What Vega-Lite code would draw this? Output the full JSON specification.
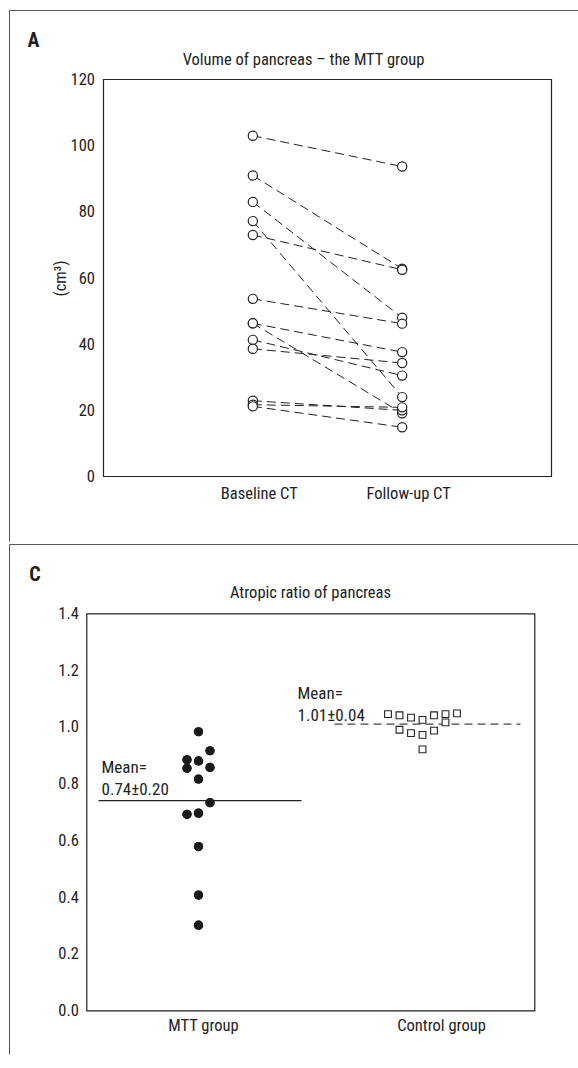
{
  "$schema": "https://vega.github.io/schema/vega-lite/v6.json",
  "background": "white",
  "padding": {"left": 7.5, "top": 9.5, "right": 0, "bottom": 0},
  "spacing": 0,
  "config": {
    "font": "Liberation Sans Narrow, Roboto Condensed, DejaVu Sans Condensed, Roboto, sans-serif",
    "view": {"stroke": "#222", "strokeWidth": 1.2},
    "axis": {"labelFontSize": 16.5, "labelColor": "#222", "titleColor": "#222", "titleFontSize": 16.5, "titleFontWeight": "normal", "domain": false, "ticks": false, "grid": false},
    "text": {"color": "#222"}
  },
  "datasets": {
    "volume": [
      {"patient": 1, "visit": 1, "volume": 103}, {"patient": 1, "visit": 2, "volume": 93.7},
      {"patient": 2, "visit": 1, "volume": 91}, {"patient": 2, "visit": 2, "volume": 62.8},
      {"patient": 3, "visit": 1, "volume": 83}, {"patient": 3, "visit": 2, "volume": 48},
      {"patient": 4, "visit": 1, "volume": 77.2}, {"patient": 4, "visit": 2, "volume": 24},
      {"patient": 5, "visit": 1, "volume": 73}, {"patient": 5, "visit": 2, "volume": 62.5},
      {"patient": 6, "visit": 1, "volume": 53.7}, {"patient": 6, "visit": 2, "volume": 46.2},
      {"patient": 7, "visit": 1, "volume": 46.3}, {"patient": 7, "visit": 2, "volume": 37.6},
      {"patient": 8, "visit": 1, "volume": 46.3}, {"patient": 8, "visit": 2, "volume": 19.1},
      {"patient": 9, "visit": 1, "volume": 41.3}, {"patient": 9, "visit": 2, "volume": 30.5},
      {"patient": 10, "visit": 1, "volume": 38.6}, {"patient": 10, "visit": 2, "volume": 34.3},
      {"patient": 11, "visit": 1, "volume": 22.9}, {"patient": 11, "visit": 2, "volume": 20.0},
      {"patient": 12, "visit": 1, "volume": 21.7}, {"patient": 12, "visit": 2, "volume": 20.9},
      {"patient": 13, "visit": 1, "volume": 21.2}, {"patient": 13, "visit": 2, "volume": 14.9}
    ],
    "mtt": [
      {"group": "MTT group", "slot": 0, "ratio": 0.983},
      {"group": "MTT group", "slot": 1, "ratio": 0.916},
      {"group": "MTT group", "slot": -1, "ratio": 0.884},
      {"group": "MTT group", "slot": 0, "ratio": 0.880},
      {"group": "MTT group", "slot": -1, "ratio": 0.854},
      {"group": "MTT group", "slot": 1, "ratio": 0.857},
      {"group": "MTT group", "slot": 0, "ratio": 0.816},
      {"group": "MTT group", "slot": 1, "ratio": 0.733},
      {"group": "MTT group", "slot": -1, "ratio": 0.692},
      {"group": "MTT group", "slot": 0, "ratio": 0.696},
      {"group": "MTT group", "slot": 0, "ratio": 0.578},
      {"group": "MTT group", "slot": 0, "ratio": 0.407},
      {"group": "MTT group", "slot": 0, "ratio": 0.301}
    ],
    "control": [
      {"group": "Control group", "slot": -3, "ratio": 1.045},
      {"group": "Control group", "slot": -2, "ratio": 1.041},
      {"group": "Control group", "slot": -1, "ratio": 1.033},
      {"group": "Control group", "slot": 0, "ratio": 1.025},
      {"group": "Control group", "slot": 1, "ratio": 1.041},
      {"group": "Control group", "slot": 2, "ratio": 1.045},
      {"group": "Control group", "slot": 3, "ratio": 1.048},
      {"group": "Control group", "slot": 2, "ratio": 1.016},
      {"group": "Control group", "slot": -2, "ratio": 0.990},
      {"group": "Control group", "slot": -1, "ratio": 0.978},
      {"group": "Control group", "slot": 0, "ratio": 0.972},
      {"group": "Control group", "slot": 1, "ratio": 0.987},
      {"group": "Control group", "slot": 0, "ratio": 0.921}
    ]
  },
  "vconcat": [
    {
      "width": 465,
      "height": 397,
      "view": {"stroke": null},
      "layer": [
        {
          "data": {"name": "volume"},
          "mark": {"type": "line", "stroke": "#222", "strokeWidth": 1, "strokeDash": [9, 5]},
          "encoding": {
            "x": {"field": "visit", "type": "quantitative", "scale": {"domain": [0, 3], "range": [17, 465], "nice": false},
                  "axis": {"values": [1, 2], "labelExpr": "datum.value == 1 ? 'Baseline CT' : 'Follow-up CT'", "title": null, "labelPadding": 9, "labelOffset": 6}},
            "y": {"field": "volume", "type": "quantitative", "scale": {"domain": [0, 120], "nice": false},
                  "axis": {"values": [0, 20, 40, 60, 80, 100, 120], "title": "(cm³)", "offset": -17, "labelPadding": 9, "titlePadding": 2}},
            "detail": {"field": "patient", "type": "nominal"}
          }
        },
        {
          "data": {"values": [{}]},
          "mark": {"type": "rect", "fill": null, "fillOpacity": 0, "stroke": "#222", "strokeWidth": 1.2},
          "encoding": {
            "x": {"datum": 0, "type": "quantitative"},
            "x2": {"datum": 3},
            "y": {"datum": 0, "type": "quantitative"},
            "y2": {"datum": 120}
          }
        },
        {
          "data": {"values": [{}]},
          "mark": {"type": "rule", "stroke": "#555", "strokeWidth": 1},
          "encoding": {
            "x": {"datum": -0.6295, "type": "quantitative"},
            "x2": {"datum": 3.181},
            "y": {"datum": 140.86, "type": "quantitative"}
          }
        },
        {
          "data": {"values": [{}]},
          "mark": {"type": "rule", "stroke": "#555", "strokeWidth": 1},
          "encoding": {
            "x": {"datum": -0.6295, "type": "quantitative"},
            "y": {"datum": 140.86, "type": "quantitative"},
            "y2": {"datum": -19.648}
          }
        },
        {
          "data": {"values": [{}]},
          "mark": {"type": "text", "text": "A", "align": "left", "baseline": "alphabetic", "fontSize": 20, "fontWeight": "bold"},
          "encoding": {
            "x": {"datum": -0.509, "type": "quantitative"},
            "y": {"datum": 129.68, "type": "quantitative"}
          }
        },
        {
          "data": {"values": [{}]},
          "mark": {"type": "text", "text": "Volume of pancreas – the MTT group", "align": "center", "baseline": "alphabetic", "fontSize": 16.5},
          "encoding": {
            "x": {"datum": 1.339, "type": "quantitative"},
            "y": {"datum": 124.53, "type": "quantitative"}
          }
        },
        {
          "data": {"name": "volume"},
          "mark": {"type": "circle", "size": 85, "fill": "white", "fillOpacity": 1, "stroke": "#222", "strokeWidth": 1.2, "opacity": 1},
          "encoding": {
            "x": {"field": "visit", "type": "quantitative"},
            "y": {"field": "volume", "type": "quantitative"}
          }
        }
      ]
    },
    {
      "width": 448,
      "height": 397,
      "layer": [
        {
          "data": {"name": "mtt"},
          "mark": {"type": "circle", "size": 85, "color": "#1a1a1a", "opacity": 1},
          "encoding": {
            "x": {"field": "group", "type": "nominal", "scale": {"type": "band", "domain": ["MTT group", "Control group"], "paddingInner": 0, "paddingOuter": 0},
                  "axis": {"title": null, "labelAngle": 0, "labelPadding": 7, "labelOffset": {"condition": {"test": "datum.value == 'Control group'", "value": 19}, "value": 5}}},
            "xOffset": {"field": "slot", "type": "quantitative", "scale": {"domain": [-3, 3], "range": [77.5, 146.5]}},
            "y": {"field": "ratio", "type": "quantitative", "scale": {"domain": [0, 1.4], "nice": false},
                  "axis": {"values": [0, 0.2, 0.4, 0.6, 0.8, 1.0, 1.2, 1.4], "format": ".1f", "title": null, "labelPadding": 8}}
          }
        },
        {
          "data": {"values": [{}]},
          "mark": {"type": "rule", "stroke": "#555", "strokeWidth": 1},
          "encoding": {
            "x": {"datum": "MTT group", "type": "nominal", "bandPosition": -0.34375},
            "x2": {"datum": "Control group", "bandPosition": 1.1964},
            "y": {"datum": 1.6432, "type": "quantitative"}
          }
        },
        {
          "data": {"values": [{}]},
          "mark": {"type": "rule", "stroke": "#555", "strokeWidth": 1},
          "encoding": {
            "x": {"datum": "MTT group", "type": "nominal", "bandPosition": -0.34375},
            "y": {"datum": 1.6432, "type": "quantitative"},
            "y2": {"datum": -0.1551}
          }
        },
        {
          "data": {"values": [{}]},
          "mark": {"type": "text", "text": "C", "align": "left", "baseline": "alphabetic", "fontSize": 20, "fontWeight": "bold"},
          "encoding": {
            "x": {"datum": "MTT group", "type": "nominal", "bandPosition": -0.256},
            "y": {"datum": 1.5162, "type": "quantitative"}
          }
        },
        {
          "data": {"values": [{}]},
          "mark": {"type": "text", "text": "Atropic ratio of pancreas", "align": "center", "baseline": "alphabetic", "fontSize": 16.5},
          "encoding": {
            "x": {"datum": "MTT group", "type": "nominal", "bandPosition": 1.0},
            "y": {"datum": 1.4563, "type": "quantitative"}
          }
        },
        {
          "data": {"values": [{}]},
          "mark": {"type": "rule", "stroke": "#222", "strokeWidth": 1.2},
          "encoding": {
            "x": {"datum": "MTT group", "type": "nominal", "bandPosition": 0.0536},
            "x2": {"datum": "MTT group", "bandPosition": 0.96},
            "y": {"datum": 0.74, "type": "quantitative"}
          }
        },
        {
          "data": {"values": [{}]},
          "mark": {"type": "rule", "stroke": "#444", "strokeWidth": 1.2, "strokeDash": [8, 5]},
          "encoding": {
            "x": {"datum": "Control group", "type": "nominal", "bandPosition": 0.107},
            "x2": {"datum": "Control group", "bandPosition": 0.9375},
            "y": {"datum": 1.01, "type": "quantitative"}
          }
        },
        {
          "data": {"name": "mtt"},
          "mark": {"type": "circle", "size": 85, "color": "#1a1a1a", "opacity": 1},
          "encoding": {
            "x": {"field": "group", "type": "nominal"},
            "xOffset": {"field": "slot", "type": "quantitative"},
            "y": {"field": "ratio", "type": "quantitative"}
          }
        },
        {
          "data": {"name": "control"},
          "mark": {"type": "square", "size": 46, "fill": "white", "fillOpacity": 1, "stroke": "#222", "strokeWidth": 1.1, "opacity": 1},
          "encoding": {
            "x": {"field": "group", "type": "nominal"},
            "xOffset": {"field": "slot", "type": "quantitative"},
            "y": {"field": "ratio", "type": "quantitative"}
          }
        },
        {
          "data": {"values": [{}]},
          "mark": {"type": "text", "text": ["Mean=", "0.74±0.20"], "align": "left", "baseline": "alphabetic", "lineHeight": 22, "fontSize": 17},
          "encoding": {
            "x": {"datum": "MTT group", "type": "nominal", "bandPosition": 0.067},
            "y": {"datum": 0.8392, "type": "quantitative"}
          }
        },
        {
          "data": {"values": [{}]},
          "mark": {"type": "text", "text": ["Mean=", "1.01±0.04"], "align": "left", "baseline": "alphabetic", "lineHeight": 22, "fontSize": 17},
          "encoding": {
            "x": {"datum": "MTT group", "type": "nominal", "bandPosition": 0.942},
            "y": {"datum": 1.1001, "type": "quantitative"}
          }
        }
      ]
    }
  ]
}
